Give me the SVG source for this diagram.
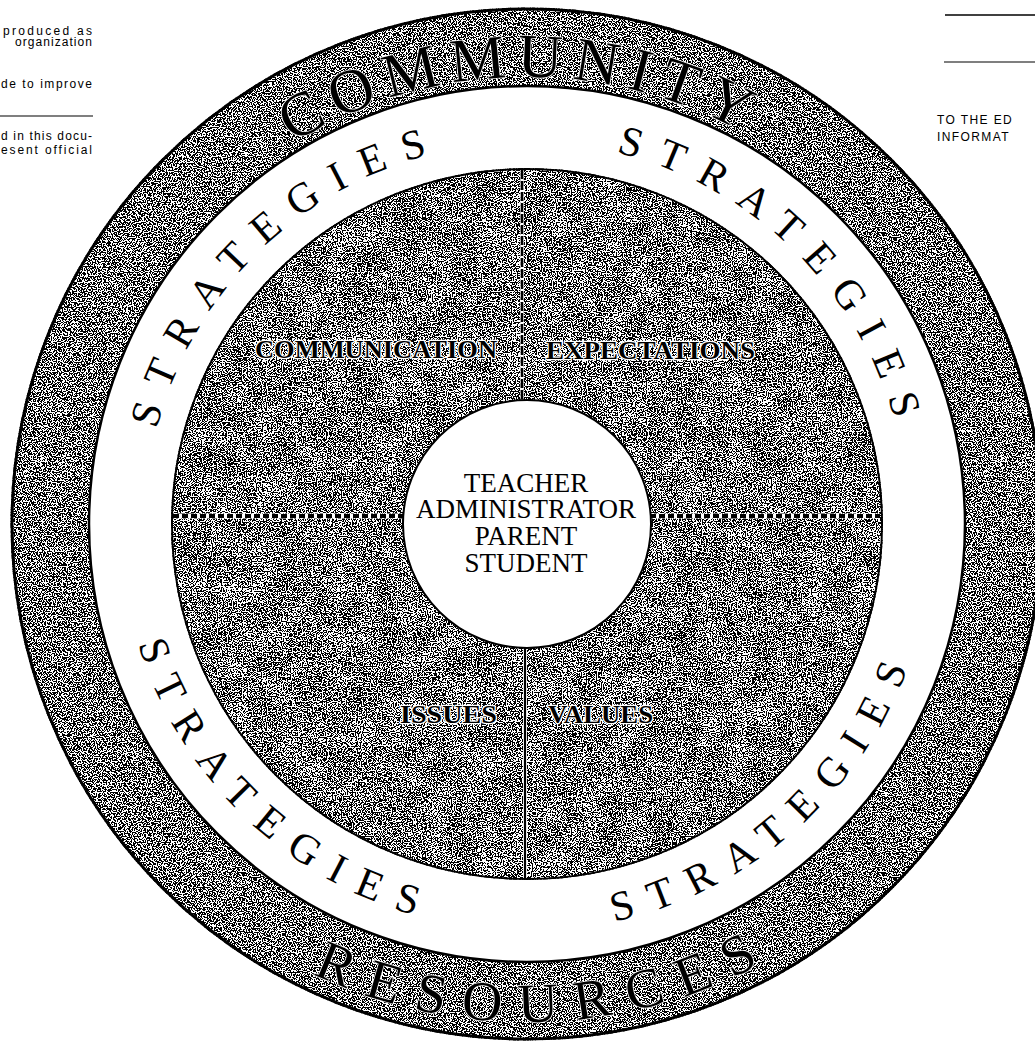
<svg xmlns="http://www.w3.org/2000/svg" width="1035" height="1044" viewBox="0 0 1035 1044">
  <style>
    .edge { stroke: #000; fill: #fff; }
    .ringword { font-family: "Liberation Serif", "Times New Roman", serif; fill: #000; }
    .outerword { font-size: 62px; letter-spacing: 10px; stroke: #fff; stroke-width: 1.5px; paint-order: stroke; }
    .lowerword { font-size: 56px; letter-spacing: 17.5px; }
    .strat { font-size: 42px; letter-spacing: 17.4px; }
    .quad { font-family: "Liberation Serif", "Times New Roman", serif; font-weight: bold; font-size: 26px; fill: #000; stroke: #fff; stroke-width: 2.5px; paint-order: stroke; stroke-linejoin: round; }
    .core { font-family: "Liberation Serif", "Times New Roman", serif; font-size: 27px; fill: #000; text-anchor: middle; }
    .note { font-family: "Liberation Sans", Arial, sans-serif; font-size: 12px; fill: #000; }
  </style>
  <defs>
    <!-- random dot screen: white shape, black grain clipped to it -->
    <filter id="screen" filterUnits="userSpaceOnUse" x="0" y="0" width="1035" height="1044" color-interpolation-filters="sRGB">
      <feTurbulence type="fractalNoise" baseFrequency="0.8" numOctaves="1" seed="7" result="fine"/>
      <feColorMatrix in="fine" type="matrix" values="0 0 0 0 0  0 0 0 0 0  0 0 0 0 0  1 0 0 0 0" result="a"/>
      <feComponentTransfer in="a" result="dots"><feFuncA type="discrete" tableValues="0 1"/></feComponentTransfer>
      <feComposite in="dots" in2="SourceAlpha" operator="in" result="clip"/>
      <feMerge><feMergeNode in="SourceGraphic"/><feMergeNode in="clip"/></feMerge>
    </filter>
    <!-- same screen with slightly uneven density -->
    <filter id="screen-blotchy" filterUnits="userSpaceOnUse" x="0" y="0" width="1035" height="1044" color-interpolation-filters="sRGB">
      <feTurbulence type="fractalNoise" baseFrequency="0.8" numOctaves="1" seed="11" result="fineRaw"/>
      <feColorMatrix in="fineRaw" type="matrix" values="1 0 0 0 0  1 0 0 0 0  1 0 0 0 0  0 0 0 0 1" result="fine"/>
      <feTurbulence type="fractalNoise" baseFrequency="0.04" numOctaves="2" seed="4" result="coarseRaw"/>
      <feColorMatrix in="coarseRaw" type="matrix" values="1 0 0 0 0  1 0 0 0 0  1 0 0 0 0  0 0 0 0 1" result="coarse"/>
      <feComposite in="fine" in2="coarse" operator="arithmetic" k1="0" k2="1" k3="0.09" k4="-0.045" result="mix"/>
      <feColorMatrix in="mix" type="matrix" values="0 0 0 0 0  0 0 0 0 0  0 0 0 0 0  1 0 0 0 0.004" result="a"/>
      <feComponentTransfer in="a" result="dots"><feFuncA type="discrete" tableValues="0 1"/></feComponentTransfer>
      <feComposite in="dots" in2="SourceAlpha" operator="in" result="clip"/>
      <feMerge><feMergeNode in="SourceGraphic"/><feMergeNode in="clip"/></feMerge>
    </filter>
    <!-- baselines for the curved lettering (centre 527,524) -->
    <path id="arc-community" d="M292.8,143.3 A447,447 0 0 1 914.1,300.5"/>
    <path id="arc-resources" d="M312.6,973.5 A498,498 0 0 0 958.3,773"/>
    <path id="arc-strat-tl" d="M156.9,429.4 A382,382 0 0 1 593.3,147.8"/>
    <path id="arc-strat-tr" d="M615.9,152.5 A382,382 0 0 1 903.2,590.3"/>
    <path id="arc-strat-bl" d="M138.1,644.1 A407,407 0 0 0 730.5,876.5"/>
    <path id="arc-strat-br" d="M614.1,921.6 A407,407 0 0 0 879.5,320.5"/>
  </defs>

  <rect width="1035" height="1044" fill="#fff"/>

  <!-- page margin notes -->
  <g id="margin-notes">
    <text class="note" x="3" y="35" textLength="89" lengthAdjust="spacing">produced as</text>
    <text class="note" x="15" y="46" textLength="77" lengthAdjust="spacing">organization</text>
    <text class="note" x="1" y="88" textLength="91" lengthAdjust="spacing">de to improve</text>
    <line x1="0" y1="116" x2="93" y2="116" stroke="#000" stroke-width="1.2"/>
    <text class="note" x="1" y="140" textLength="91" lengthAdjust="spacing">d in this docu-</text>
    <text class="note" x="1" y="154" textLength="91" lengthAdjust="spacing">esent official</text>
    <line x1="945" y1="15" x2="1035" y2="15" stroke="#000" stroke-width="1.5"/>
    <line x1="944" y1="62" x2="1035" y2="62" stroke="#000" stroke-width="1.2"/>
    <text class="note" x="937" y="124" font-size="13" letter-spacing="1.4">TO THE ED</text>
    <text class="note" x="937" y="141" font-size="13" letter-spacing="1.4">INFORMAT</text>
  </g>

  <!-- community / resources band -->
  <g id="community-band">
    <circle class="edge" cx="527" cy="524" r="515" stroke-width="3" filter="url(#screen)"/>
    <text class="ringword outerword"><textPath href="#arc-community">COMMUNITY</textPath></text>
    <text class="ringword outerword lowerword"><textPath href="#arc-resources">RESOURCES</textPath></text>
  </g>

  <!-- strategies band -->
  <g id="strategies-band">
    <circle class="edge" cx="527" cy="524" r="438" stroke-width="2.5"/>
    <text class="ringword strat"><textPath href="#arc-strat-tl">STRATEGIES</textPath></text>
    <text class="ringword strat"><textPath href="#arc-strat-tr">STRATEGIES</textPath></text>
    <text class="ringword strat"><textPath href="#arc-strat-bl">STRATEGIES</textPath></text>
    <text class="ringword strat"><textPath href="#arc-strat-br">STRATEGIES</textPath></text>
  </g>

  <!-- inner disc -->
  <g id="inner-disc">
    <circle class="edge" cx="527" cy="524" r="355" stroke-width="2" filter="url(#screen-blotchy)"/>
  </g>

  <!-- quadrant dividers -->
  <g id="connectors">
    <g stroke="#fff" fill="none">
      <line x1="173" y1="516" x2="404" y2="516" stroke-width="5"/>
      <line x1="650" y1="516" x2="880" y2="516" stroke-width="5"/>
      <line x1="522" y1="170" x2="522" y2="401" stroke-width="3.5"/>
      <line x1="525" y1="647" x2="525" y2="878" stroke-width="4"/>
    </g>
    <g stroke="#000" fill="none">
      <line x1="173" y1="516" x2="404" y2="516" stroke-width="4" stroke-dasharray="6 3"/>
      <line x1="650" y1="516" x2="880" y2="516" stroke-width="4" stroke-dasharray="6 3"/>
      <line x1="522" y1="170" x2="522" y2="401" stroke-width="2.5" stroke-dasharray="9 2"/>
      <line x1="525" y1="647" x2="525" y2="878" stroke-width="2.2"/>
    </g>
  </g>

  <!-- quadrant labels -->
  <g id="quadrant-communication"><text class="quad" x="255" y="358" textLength="242" lengthAdjust="spacingAndGlyphs">COMMUNICATION</text></g>
  <g id="quadrant-expectations"><text class="quad" x="546" y="359" textLength="209" lengthAdjust="spacingAndGlyphs">EXPECTATIONS</text></g>
  <g id="quadrant-issues"><text class="quad" x="400" y="723" textLength="97" lengthAdjust="spacingAndGlyphs">ISSUES</text></g>
  <g id="quadrant-values"><text class="quad" x="548" y="723" textLength="105" lengthAdjust="spacingAndGlyphs">VALUES</text></g>

  <!-- centre hub -->
  <g id="hub">
    <circle class="edge" cx="527" cy="524" r="124" stroke-width="2"/>
    <text class="core" x="526" y="492">TEACHER</text>
    <text class="core" x="526" y="518">ADMINISTRATOR</text>
    <text class="core" x="526" y="545">PARENT</text>
    <text class="core" x="526" y="572">STUDENT</text>
  </g>
</svg>
